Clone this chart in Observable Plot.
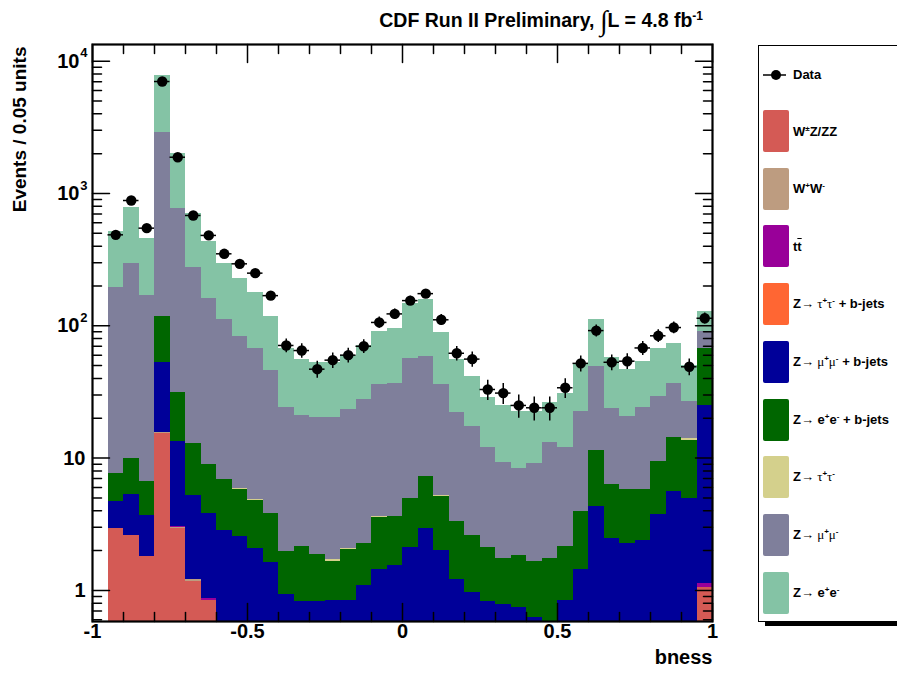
<!DOCTYPE html>
<html>
<head>
<meta charset="utf-8">
<script src="https://cdn.jsdelivr.net/npm/d3@7"></script>
<script src="https://cdn.jsdelivr.net/npm/@observablehq/plot@0.6"></script>
<style>
  html, body { margin: 0; padding: 0; background: #fff; }
  #wrap { position: relative; width: 897px; height: 678px; overflow: hidden;
          font-family: "Liberation Sans", Arial, Helvetica, sans-serif; }
  #wrap > svg { position: absolute; left: 0; top: 0; }
  #title { position: absolute; right: 194px; top: 11px; font-size: 19.5px; line-height: 19px;
           font-weight: bold; white-space: nowrap; color: #000; }
  #title .int { font-family: "Liberation Serif", serif; font-weight: normal; font-size: 28px;
                line-height: 0; position: relative; top: 3px; }
  #title sup { font-size: 12px; line-height: 0; vertical-align: 7px; }
  #legend { position: absolute; left: 758px; top: 45px; width: 220px; height: 577px;
            box-sizing: border-box; border: 1px solid #000; background: #fff;
            box-shadow: 7px 4px 0 #000; }
  .row { position: absolute; left: 4px; display: flex; align-items: center;
         font-weight: bold; font-size: 13px; white-space: nowrap; }
  .row svg { flex: none; }
  .sw { width: 26px; height: 42px; border-radius: 2px; margin-right: 4px; flex: none; }
  .row sup { font-size: 8px; line-height: 0; vertical-align: 5px; }
  .sym { font-family: "Liberation Serif", serif; font-weight: normal; }
  .ov { text-decoration: overline; }
</style>
</head>
<body>
<div id="wrap">
  <div id="title">CDF Run II Preliminary, <span class="int">∫</span>L = 4.8 fb<sup>-1</sup></div>
  <div id="legend"></div>
</div>
<script>
// bness histogram: 40 bins of 0.05 units between -1 and 1
const binWidth = 0.05;
const binStart = -1;

// Background processes, in stacking order (bottom first)
const wzzz  = [0, 2.92, 2.60, 1.80, 15.3, 2.93, 1.17, 0.84, 0.42, 0.35, 0.30, 0.28, 0.25, 0.22, 0.20, 0.22, 0.20, 0.25, 0.30, 0.28,
               0.30, 0.35, 0.30, 0.25, 0.22, 0.20, 0.20, 0.18, 0.20, 0.22, 0.25, 0.30, 0.35, 0.30, 0.30, 0.35, 0.40, 0.45, 0.50, 1.06];
const ww    = [0, 0, 0, 0, 0.40, 0.08, 0.03, 0.005, 0, 0, 0, 0, 0, 0, 0, 0, 0, 0, 0, 0,
               0, 0, 0, 0, 0, 0, 0, 0, 0, 0, 0, 0, 0, 0, 0, 0, 0, 0, 0, 0];
const ttbar = [0, 0, 0, 0, 0, 0.05, 0, 0.02, 0, 0, 0, 0, 0, 0, 0, 0, 0, 0, 0, 0,
               0, 0, 0, 0, 0, 0, 0, 0, 0, 0, 0, 0, 0, 0, 0, 0, 0, 0, 0, 0.06];
const zttB  = [0, 0, 0, 0, 0, 0, 0, 0, 0, 0, 0, 0, 0, 0, 0, 0, 0, 0, 0, 0,
               0, 0, 0, 0, 0, 0, 0, 0, 0, 0, 0, 0, 0, 0, 0, 0, 0, 0, 0, 0];
const zmmB  = [0, 1.78, 2.71, 1.88, 37.3, 10.34, 4.04, 2.97, 2.42, 2.22, 1.78, 1.35, 0.68, 0.61, 0.63, 0.62, 0.64, 0.84, 1.13, 1.26,
               1.82, 2.60, 1.70, 0.96, 0.75, 0.62, 0.58, 0.56, 0.42, 0.33, 0.59, 1.14, 3.96, 2.18, 1.95, 2.03, 3.33, 5.14, 4.48, 23.9];
const zeeB  = [0, 2.90, 4.67, 2.94, 65, 18.1, 7.56, 5.12, 4.09, 3.22, 2.70, 2.16, 1.05, 1.32, 1.04, 0.82, 1.19, 1.18, 2.14, 2.06,
               2.86, 4.31, 3.13, 2.11, 1.63, 1.30, 0.97, 1.10, 1.03, 1.18, 1.32, 2.53, 7.09, 3.83, 3.54, 3.41, 5.69, 8.81, 8.72, 42];
const ztt   = [0, 0, 0, 0, 0, 0, 0.15, 0, 0, 0.10, 0.08, 0, 0, 0, 0, 0.05, 0.06, 0, 0.07, 0,
               0, 0.05, 0.10, 0, 0, 0, 0, 0, 0, 0, 0, 0, 0, 0, 0, 0, 0, 0, 0.25, 0];
const zmm   = [0, 187, 287, 162, 2786, 735, 264, 153, 105, 77.5, 62.1, 42.1, 22.3, 18.9, 18.5, 18.7, 21.1, 25.3, 32.4, 32.9,
               51.3, 51.3, 30.8, 18.9, 14.7, 10.0, 7.56, 6.55, 7.50, 11.3, 9.81, 18.6, 37.8, 17.5, 14.8, 18.2, 19.8, 22.0, 12.9, 23.6];
const zee   = [0, 324, 492, 288, 4896, 1229, 426, 272, 185, 144, 112, 71.1, 42.7, 34.3, 32.6, 32.6, 36.4, 43.4, 54.6, 59.4,
               90.3, 99.4, 53.5, 33.2, 24.1, 16.5, 15.7, 14.2, 13.5, 13.2, 18.6, 29.0, 61.8, 33.5, 25.9, 30.0, 37.8, 36.7, 23.3, 37.4];

// Observed events per bin
const observed = [null, 487, 885, 547, 7020, 1880, 682, 482, 350, 294, 250, 169, 71, 65, 47, 55, 60, 70, 106, 123,
                  155, 175, 111, 62, 56, 33, 31, 25, 24, 24, 34, 52, 92, 53, 54, 68, 84, 97, 49, 114];

const processNames = ["W±Z/ZZ", "W+W-", "tt", "Z→ττ + b-jets", "Z→μμ + b-jets", "Z→ee + b-jets", "Z→ττ", "Z→μμ", "Z→ee"];
const processValues = [wzzz, ww, ttbar, zttB, zmmB, zeeB, ztt, zmm, zee];
const processColors = ["#d45a55", "#bd9c80", "#990099", "#ff6633", "#000099", "#006600", "#d4d08c", "#7f7f9b", "#84c3a5"];
const legendLabels = [
  "W<sup>±</sup>Z/ZZ",
  "W<sup>+</sup>W<sup>-</sup>",
  "t<span class='ov'>t</span>",
  "Z<span class='sym'>→ τ</span><sup>+</sup><span class='sym'>τ</span><sup>-</sup> + b-jets",
  "Z<span class='sym'>→ μ</span><sup>+</sup><span class='sym'>μ</span><sup>-</sup> + b-jets",
  "Z<span class='sym'>→</span> e<sup>+</sup>e<sup>-</sup> + b-jets",
  "Z<span class='sym'>→ τ</span><sup>+</sup><span class='sym'>τ</span><sup>-</sup>",
  "Z<span class='sym'>→ μ</span><sup>+</sup><span class='sym'>μ</span><sup>-</sup>",
  "Z<span class='sym'>→</span> e<sup>+</sup>e<sup>-</sup>"
];

// Axis ticks
const xMajorTicks = [-1, -0.5, 0, 0.5, 1];
const xTickLabels = ["-1", "-0.5", "0", "0.5", "1"];
const xMinorTicks = [-0.9, -0.8, -0.7, -0.6, -0.4, -0.3, -0.2, -0.1, 0.1, 0.2, 0.3, 0.4, 0.6, 0.7, 0.8, 0.9];
const yMajorTicks = [1, 10, 100, 1000, 10000];
const yTickMantissa = ["1", "10", "10", "10", "10"];
const yTickExponent = ["", "", "2", "3", "4"];
const yMinorTicks = [0.6, 0.7, 0.8, 0.9, 2, 3, 4, 5, 6, 7, 8, 9, 20, 30, 40, 50, 60, 70, 80, 90,
                     200, 300, 400, 500, 600, 700, 800, 900, 2000, 3000, 4000, 5000, 6000, 7000, 8000, 9000];

// Stack the processes into rectangles
const nBins = observed.length;
const stackRows = [];
for (let i = 0; i < nBins; i++) {
  const x1 = binStart + i * binWidth, x2 = x1 + binWidth;
  let cum = 0;
  processValues.forEach((vals, k) => {
    const v = vals[i];
    if (v > 0) {
      stackRows.push({x1, x2, y1: cum > 0 ? cum : 1e-6, y2: cum + v, process: processNames[k]});
      cum += v;
    }
  });
}
const points = observed
  .map((n, i) => ({n, lo: binStart + i * binWidth, hi: binStart + (i + 1) * binWidth, x: binStart + (i + 0.5) * binWidth}))
  .filter(d => d.n != null);

// y tick labels, split into plain labels and powers of ten
const yLabels = yMajorTicks.map((v, i) => ({v, mant: yTickMantissa[i], exp: yTickExponent[i]}));
const yPlain = yLabels.filter(d => d.exp === "");
const yPowers = yLabels.filter(d => d.exp !== "");

const tickShape = {draw(context, l) { context.moveTo(0, 0); context.lineTo(0, -l); }};
const axisFont = {fontFamily: "Liberation Sans, Arial, sans-serif", fontWeight: "bold", fill: "black"};
const tickStyle = {anchor: "start", shape: tickShape, stroke: "black", strokeWidth: 1.5};

const chart = Plot.plot({
  width: 897,
  height: 678,
  marginLeft: 92,
  marginRight: 185,
  marginTop: 44,
  marginBottom: 57,
  style: {background: "transparent", overflow: "visible"},
  x: {domain: [-1, 1], axis: null},
  y: {type: "log", domain: [0.582, 13370], clamp: true, axis: null},
  color: {domain: processNames, range: processColors},
  marks: [
    Plot.rect(stackRows, {x1: "x1", x2: "x2", y1: "y1", y2: "y2", fill: "process", shapeRendering: "crispEdges"}),
    Plot.ruleX(points, {x: "x", y1: d => d.n - Math.sqrt(d.n), y2: d => d.n + Math.sqrt(d.n), stroke: "black", strokeWidth: 1.5}),
    Plot.ruleY(points, {y: "n", x1: "lo", x2: "hi", stroke: "black", strokeWidth: 1.5}),
    Plot.dot(points, {x: "x", y: "n", r: 5.2, fill: "black", stroke: "none"}),
    // inward ticks on all four sides
    Plot.vector(xMajorTicks, {x: d => d, frameAnchor: "bottom", length: 18, ...tickStyle}),
    Plot.vector(xMinorTicks, {x: d => d, frameAnchor: "bottom", length: 9, ...tickStyle}),
    Plot.vector(xMajorTicks, {x: d => d, frameAnchor: "top", rotate: 180, length: 18, ...tickStyle}),
    Plot.vector(xMinorTicks, {x: d => d, frameAnchor: "top", rotate: 180, length: 9, ...tickStyle}),
    Plot.vector(yMajorTicks, {y: d => d, frameAnchor: "left", rotate: 90, length: 17, ...tickStyle}),
    Plot.vector(yMinorTicks, {y: d => d, frameAnchor: "left", rotate: 90, length: 9, ...tickStyle}),
    Plot.vector(yMajorTicks, {y: d => d, frameAnchor: "right", rotate: -90, length: 17, ...tickStyle}),
    Plot.vector(yMinorTicks, {y: d => d, frameAnchor: "right", rotate: -90, length: 9, ...tickStyle}),
    Plot.frame({stroke: "black", strokeWidth: 2.2}),
    // tick labels
    Plot.text(xMajorTicks, {x: d => d, text: (d, i) => xTickLabels[i], frameAnchor: "bottom", dy: 16, fontSize: 20, ...axisFont}),
    Plot.text(yPlain, {y: "v", text: "mant", frameAnchor: "left", dx: -7, textAnchor: "end", fontSize: 20, ...axisFont}),
    Plot.text(yPowers, {y: "v", text: "mant", frameAnchor: "left", dx: -13, textAnchor: "end", fontSize: 20, ...axisFont}),
    Plot.text(yPowers, {y: "v", text: "exp", frameAnchor: "left", dx: -5, dy: -8, textAnchor: "end", fontSize: 13, ...axisFont}),
    // axis titles
    Plot.text(["bness"], {frameAnchor: "bottom-right", dy: 42, textAnchor: "end", fontSize: 20, ...axisFont}),
    Plot.text(["Events / 0.05 units"], {frameAnchor: "top-left", dx: -80, dy: 2, rotate: -90, textAnchor: "end", fontSize: 19, ...axisFont})
  ]
});
document.getElementById("wrap").prepend(chart);

// Legend
const legend = document.getElementById("legend");
const dataRow = document.createElement("div");
dataRow.className = "row";
dataRow.style.top = "21px";
dataRow.innerHTML = `<svg width="26" height="14" style="margin-right:4px"><line x1="0" x2="23" y1="7" y2="7" stroke="#000" stroke-width="1.5"/><circle cx="13" cy="7" r="5" fill="#000"/></svg>Data`;
legend.appendChild(dataRow);
processNames.forEach((name, k) => {
  const row = document.createElement("div");
  row.className = "row";
  row.style.top = (64 + 57.7 * k) + "px";
  row.innerHTML = `<div class="sw" style="background:${processColors[k]}"></div><span>${legendLabels[k]}</span>`;
  legend.appendChild(row);
});
</script>
</body>
</html>
